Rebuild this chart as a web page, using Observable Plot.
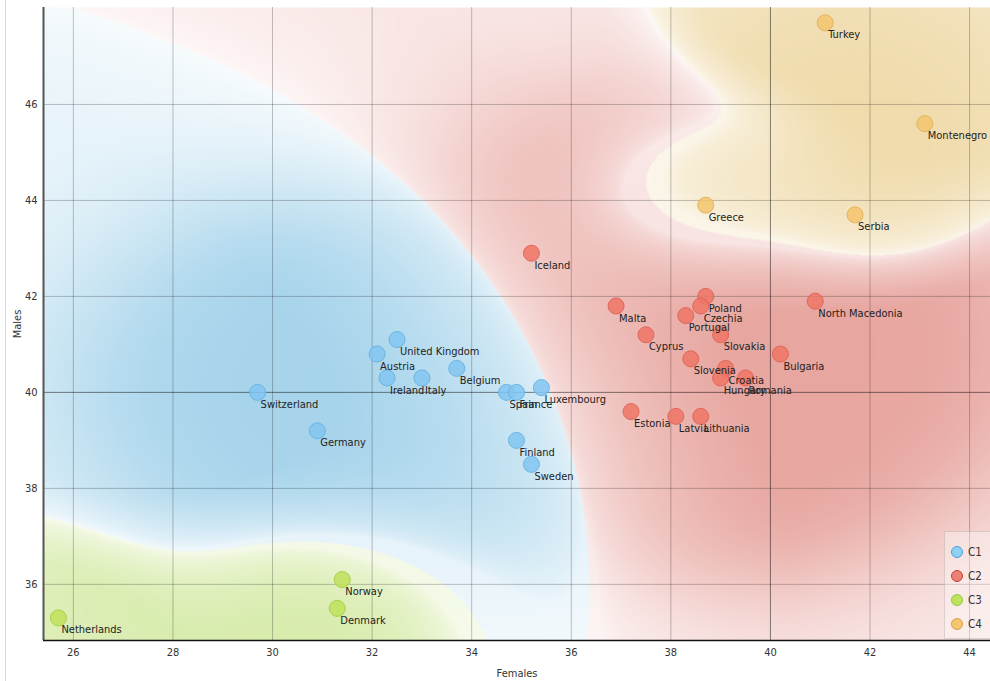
<!DOCTYPE html>
<html><head><meta charset="utf-8">
<script src="https://cdn.jsdelivr.net/npm/d3@7"></script>
<script src="https://cdn.jsdelivr.net/npm/@observablehq/plot@0.6"></script>
<style>
body{margin:0;background:#fff;font-family:"DejaVu Sans Condensed","DejaVu Sans",sans-serif;}
#wrap{position:relative;width:990px;height:681px;overflow:hidden;}
#wrap::before{content:"";position:absolute;left:5px;top:0;width:1px;height:681px;background:#d8d8d8;}
#legend{position:absolute;left:944px;top:531px;width:60px;height:108px;background:rgba(255,255,255,0.35);border:1px solid rgba(0,0,0,0.12);box-sizing:border-box;}
#legend .it{position:absolute;left:6px;height:16px;display:flex;align-items:center;font-size:11.5px;color:#333;}
#legend .sw{width:10px;height:10px;border-radius:50%;border:1.5px solid;margin-right:5px;}
</style></head><body><div id="wrap"></div>
<script>
const countries = ["Turkey","Montenegro","Greece","Serbia","Iceland","Malta","Poland","Czechia","Portugal","Slovakia","Cyprus","Slovenia","Bulgaria","Croatia","Hungary","Romania","Estonia","Latvia","Lithuania","North Macedonia","Switzerland","Germany","United Kingdom","Austria","Ireland","Italy","Belgium","Spain","France","Luxembourg","Finland","Sweden","Netherlands","Norway","Denmark"];
const females = [41.1,43.1,38.7,41.7,35.2,36.9,38.7,38.6,38.3,39.0,37.5,38.4,40.2,39.1,39.0,39.5,37.2,38.1,38.6,40.9,29.7,30.9,32.5,32.1,32.3,33.0,33.7,34.7,34.9,35.4,34.9,35.2,25.7,31.4,31.3];
const males = [47.7,45.6,43.9,43.7,42.9,41.8,42.0,41.8,41.6,41.2,41.2,40.7,40.8,40.5,40.3,40.3,39.6,39.5,39.5,41.9,40.0,39.2,41.1,40.8,40.3,40.3,40.5,40.0,40.0,40.1,39.0,38.5,35.3,36.1,35.5];
const clusters = ["C4","C4","C4","C4","C2","C2","C2","C2","C2","C2","C2","C2","C2","C2","C2","C2","C2","C2","C2","C2","C1","C1","C1","C1","C1","C1","C1","C1","C1","C1","C1","C1","C3","C3","C3"];
const clusterNames = ["C1","C2","C3","C4"];
const dotFill = ["#82c6f1","#ee7565","#bfe05c","#f3c46c"];
const dotStroke = ["#6cb4e4","#e0665a","#a9d048","#e4b45e"];
const legendFill = ["#8fd0f5","#ec8075","#bde35e","#f4c66e"];
const legendStroke = ["#4c9fd6","#c9403a","#93c83e","#d9a145"];
const regionTint = [[112,185,223],[217,112,102],[180,218,97],[227,190,105]];
const regionSpread = [0.18,0.2,0.1,0.08];
const regionWeight = [1,1.04,0.8,1.6];
const xTicks = [26,28,30,32,34,36,38,40,42,44];
const yTicks = [36,38,40,42,44,46];
const emphasis = [40];
const xDomain = [25.4, 44.42];
const yDomain = [34.83, 48.02];

const data = countries.map((name, i) => ({name, x: females[i], y: males[i], c: clusters[i], ci: clusterNames.indexOf(clusters[i])}));

const X0 = xDomain[0], XR = xDomain[1] - xDomain[0], Y0 = yDomain[0], YR = yDomain[1] - yDomain[0];
const pts = data.map(d => ({nx: (d.x - X0) / XR, ny: (d.y - Y0) / YR, ci: d.ci}));
const kc = regionSpread.map(s => 1 / (2 * s * s));
const wc = regionSpread.map((s, i) => regionWeight[i] / (s * s));
const si = 0.15, ki = 1 / (2 * si * si);
function bg(x, y) {
  const nx = (x - X0) / XR, ny = (y - Y0) / YR;
  const S = [0, 0, 0, 0], D = [0, 0, 0, 0];
  for (const p of pts) {
    const d2 = (p.nx - nx) ** 2 + (p.ny - ny) ** 2;
    S[p.ci] += Math.exp(-d2 * kc[p.ci]);
    D[p.ci] += Math.exp(-d2 * ki);
  }
  for (let c = 0; c < 4; c++) S[c] *= wc[c];
  let m = 0;
  for (let c = 1; c < 4; c++) if (S[c] > S[m]) m = c;
  const tot = S[0] + S[1] + S[2] + S[3];
  const p = tot > 0 ? S[m] / tot : 1;
  const dn = 1 - Math.exp(-D[m] / 1.2);
  const g = Math.max(0, Math.min(1, (p - 0.5) / 0.3));
  const a = (0.16 + 0.46 * dn) * (0.3 + 0.7 * Math.pow(g, 0.6));
  const t = regionTint[m];
  const r = Math.round(255 - (255 - t[0]) * a), gg = Math.round(255 - (255 - t[1]) * a), b = Math.round(255 - (255 - t[2]) * a);
  return `rgb(${r},${gg},${b})`;
}

const font = `"DejaVu Sans Condensed","DejaVu Sans",sans-serif`;
const chart = Plot.plot({
  width: 990, height: 681,
  marginLeft: 43, marginRight: 0, marginTop: 7, marginBottom: 41,
  style: {fontFamily: font, fontSize: "11px", color: "#333", background: "transparent"},
  x: {domain: xDomain, label: null},
  y: {domain: yDomain, label: null},
  color: {type: "identity"},
  marks: [
    Plot.raster({fill: bg, x1: xDomain[0], x2: xDomain[1], y1: yDomain[0], y2: yDomain[1], pixelSize: 1}),
    Plot.gridX(xTicks, {stroke: "#000", strokeOpacity: 0.24}),
    Plot.gridY(yTicks, {stroke: "#000", strokeOpacity: 0.24}),
    Plot.ruleX(emphasis, {stroke: "#000", strokeOpacity: 0.3}),
    Plot.ruleY(emphasis, {stroke: "#000", strokeOpacity: 0.3}),
    Plot.ruleX([xDomain[0]], {stroke: "#555", strokeWidth: 2}),
    Plot.ruleY([yDomain[0]], {stroke: "#111", strokeWidth: 1.5}),
    Plot.axisX(xTicks, {tickSize: 0, tickPadding: 8, fontSize: 11, fill: "#333", label: "Females", labelAnchor: "center", labelOffset: 36, labelArrow: "none"}),
    Plot.axisY(yTicks, {tickSize: 0, tickPadding: 6, fontSize: 11, fill: "#333", label: "Males", labelAnchor: "center", labelOffset: 30, labelArrow: "none"}),
    Plot.dot(data, {x: "x", y: "y", r: 8, fill: d => dotFill[d.ci], fillOpacity: 0.85, stroke: d => dotStroke[d.ci], strokeWidth: 1}),
    Plot.text(data, {x: "x", y: "y", text: "name", textAnchor: "start", dx: 3, dy: 12, fontSize: 11, fill: "#222"})
  ]
});
const wrap = document.getElementById("wrap");
wrap.appendChild(chart);
const leg = document.createElement("div");
leg.id = "legend";
clusterNames.forEach((n, i) => {
  const it = document.createElement("div");
  it.className = "it";
  it.style.top = (12 + i * 24) + "px";
  const sw = document.createElement("span");
  sw.className = "sw";
  sw.style.background = legendFill[i];
  sw.style.borderColor = legendStroke[i];
  it.appendChild(sw);
  it.appendChild(document.createTextNode(n));
  leg.appendChild(it);
});
wrap.appendChild(leg);
</script>
</body></html>
